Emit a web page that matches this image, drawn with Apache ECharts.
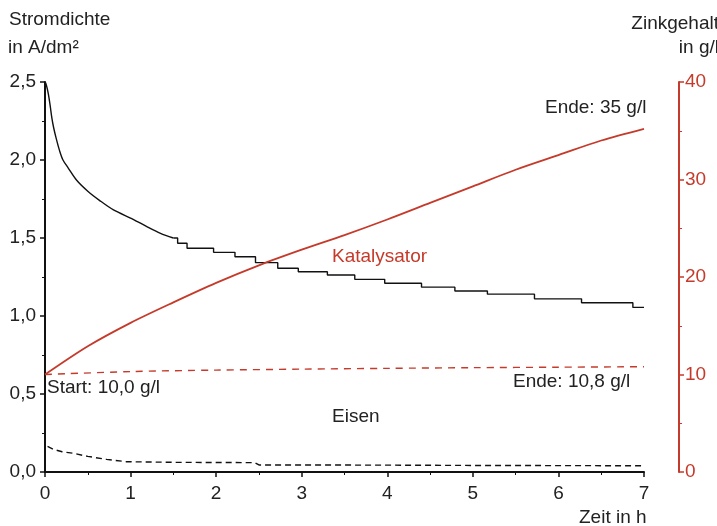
<!DOCTYPE html>
<html>
<head>
<meta charset="utf-8">
<script src="https://cdn.jsdelivr.net/npm/echarts@6/dist/echarts.min.js"></script>
<style>html,body{margin:0;padding:0;background:#fff}#c{width:717px;height:526px}</style>
</head>
<body>
<div id="c"></div>
<script>
// Current density (A/dm²), catalyst run – smooth early part
const curSmoothT = [0, 0.01, 0.025, 0.04, 0.06, 0.08, 0.1, 0.13, 0.17, 0.21, 0.27, 0.37, 0.5, 0.64, 0.8, 1.03, 1.2, 1.35, 1.5];
const curSmoothV = [2.5, 2.49, 2.46, 2.42, 2.35, 2.27, 2.21, 2.14, 2.06, 2.0, 1.95, 1.87, 1.8, 1.74, 1.68, 1.62, 1.57, 1.53, 1.5];
// Current density staircase part (time of step, new level)
const curStepT = [1.5, 1.55, 1.66, 1.97, 2.22, 2.46, 2.72, 2.96, 3.3, 3.62, 3.97, 4.4, 4.79, 5.17, 5.72, 6.27, 6.87, 7.0];
const curStepV = [1.5, 1.466, 1.434, 1.408, 1.38, 1.342, 1.306, 1.284, 1.263, 1.235, 1.21, 1.185, 1.16, 1.14, 1.11, 1.085, 1.055, 1.055];
// Current density, iron run (dashed black)
const ironCurT = [0.03, 0.1, 0.2, 0.33, 0.5, 0.72, 0.95, 1.5, 2.0, 2.45, 2.5, 3, 4, 5, 6, 7];
const ironCurV = [0.165, 0.145, 0.13, 0.12, 0.10, 0.081, 0.066, 0.062, 0.061, 0.06, 0.045, 0.045, 0.044, 0.042, 0.041, 0.04];
// Zinc content (g/l), catalyst
const zincKatT = [0, 0.5, 1, 1.5, 2, 2.5, 3, 3.5, 4, 4.5, 5, 5.5, 6, 6.5, 7];
const zincKatV = [10, 12.9, 15.3, 17.4, 19.4, 21.2, 22.8, 24.3, 25.9, 27.6, 29.3, 31.0, 32.5, 34.0, 35.2];
// Zinc content (g/l), iron
const zincEisT = [0, 1, 2, 3, 4, 5, 6, 7];
const zincEisV = [10.0, 10.3, 10.45, 10.55, 10.63, 10.7, 10.75, 10.8];
// Axis ticks
const xTicks = [0, 7, 1];
const yLeftTicks = [0, 2.5, 0.5];
const yRightTicks = [0, 40, 10];

const RED = '#c53a2a';
const TXT = '#222';
const FONT = '"Liberation Sans", Arial, sans-serif';
const FS = 19;

const zip = (a, b) => a.map((t, i) => [t, b[i]]);
const stair = [];
curStepT.forEach((t, i) => {
  if (i > 0) stair.push([t, curStepV[i - 1]]);
  stair.push([t, curStepV[i]]);
});

const chart = echarts.init(document.getElementById('c'), null, {renderer: 'canvas'});
const txt = (text, x, y, align, color) => ({
  type: 'text', x: x, y: y,
  style: {text: text, fill: color || TXT, font: FS + 'px ' + FONT, textAlign: align || 'left', textVerticalAlign: 'middle'}
});
chart.setOption({
  animation: false,
  backgroundColor: '#fff',
  grid: {left: 45, right: 73, top: 82, bottom: 54, containLabel: false},
  xAxis: {
    type: 'value', min: xTicks[0], max: xTicks[1], interval: xTicks[2],
    axisLine: {lineStyle: {color: '#111', width: 2}},
    axisTick: {length: 5, lineStyle: {color: '#111', width: 1.5}},
    minorTick: {show: true, splitNumber: 2, length: 3, lineStyle: {color: '#111', width: 1}},
    axisLabel: {color: TXT, fontSize: FS, fontFamily: FONT, margin: 12},
    splitLine: {show: false}
  },
  yAxis: [{
    type: 'value', min: yLeftTicks[0], max: yLeftTicks[1], interval: yLeftTicks[2],
    axisLine: {show: true, lineStyle: {color: '#111', width: 2}},
    axisTick: {show: true, length: 5, lineStyle: {color: '#111', width: 1.5}},
    minorTick: {show: true, splitNumber: 2, length: 3, lineStyle: {color: '#111', width: 1}},
    axisLabel: {color: TXT, fontSize: FS, fontFamily: FONT, margin: 9,
      formatter: v => v.toFixed(1).replace('.', ',')},
    splitLine: {show: false}
  }, {
    type: 'value', position: 'right', offset: 35,
    min: yRightTicks[0], max: yRightTicks[1], interval: yRightTicks[2],
    axisLine: {show: true, lineStyle: {color: RED, width: 2}},
    axisTick: {show: true, length: 5, lineStyle: {color: RED, width: 1.5}},
    minorTick: {show: true, splitNumber: 2, length: 3, lineStyle: {color: RED, width: 1}},
    axisLabel: {color: RED, fontSize: FS, fontFamily: FONT, margin: 6},
    splitLine: {show: false}
  }],
  series: [{
    type: 'line', yAxisIndex: 0, data: zip(curSmoothT, curSmoothV), showSymbol: false, smooth: 0.3,
    lineStyle: {color: '#111', width: 1.4}
  }, {
    type: 'line', yAxisIndex: 0, data: stair, showSymbol: false,
    lineStyle: {color: '#111', width: 1.4}
  }, {
    type: 'line', yAxisIndex: 0, data: zip(ironCurT, ironCurV), showSymbol: false,
    lineStyle: {color: '#111', width: 1.4, type: [6, 4]}
  }, {
    type: 'line', yAxisIndex: 1, data: zip(zincKatT, zincKatV), showSymbol: false, smooth: 0.3,
    lineStyle: {color: RED, width: 1.8}
  }, {
    type: 'line', yAxisIndex: 1, data: zip(zincEisT, zincEisV), showSymbol: false, smooth: 0.3,
    lineStyle: {color: RED, width: 1.4, type: [7, 6]}
  }],
  graphic: [
    txt('Stromdichte', 9, 20),
    txt('in A/dm²', 8, 48),
    txt('Zinkgehalt', 719, 24, 'right'),
    txt('in g/l', 719, 48, 'right'),
    txt('Ende: 35 g/l', 545, 108),
    txt('Katalysator', 332, 257, 'left', RED),
    txt('Start: 10,0 g/l', 47, 388),
    txt('Ende: 10,8 g/l', 513, 382),
    txt('Eisen', 332, 417),
    txt('Zeit in h', 579, 518)
  ]
});
</script>
</body>
</html>
